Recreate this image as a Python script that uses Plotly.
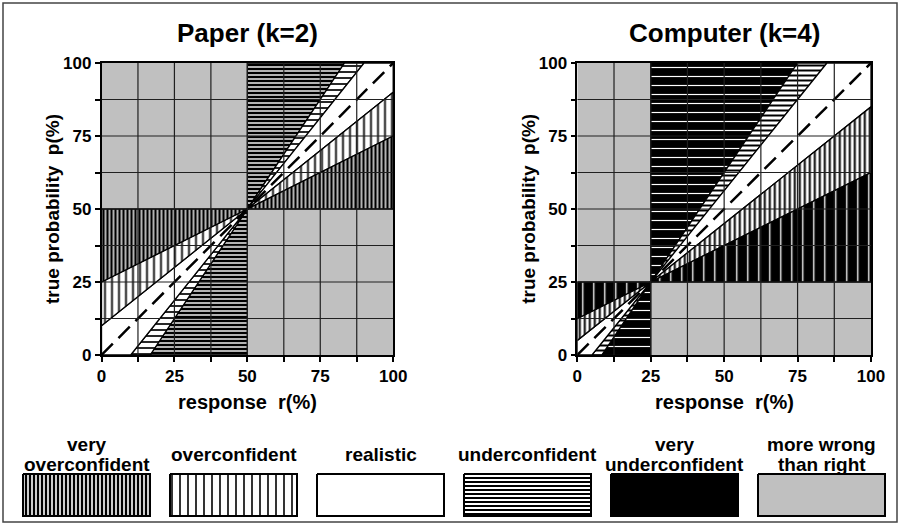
import numpy as np
import plotly.graph_objects as go

W, H = 901, 527

# ---------------- data ----------------
K_VALUES = [2, 4]
PANEL_TITLES = ["Paper (k=2)", "Computer (k=4)"]
# slopes of the band borders through the pivot (100/k, 100/k):
# very-under | under | realistic | over | very-over
BAND_SLOPES = [1.5, 1.25, 0.8, 0.5]
TICK_VALUES = [0, 25, 50, 75, 100]
GRID_STEP = 12.5
X_TITLE = "response  r(%)"
Y_TITLE = "true probability  p(%)"
LEGEND_KEYS = ["VO", "O", "R", "U", "VU", "WR"]
LEGEND_LABELS = [["very", "overconfident"], ["overconfident"], ["realistic"],
                 ["underconfident"], ["very", "underconfident"],
                 ["more wrong", "than right"]]

# ---------------- styles ----------------
GRAY = "#c0c0c0"
FONT = "Liberation Sans"
PANEL_X_PX = [(101.5, 393.2), (577.3, 871.0)]
PANEL_Y_PX = (63.0, 355.0)

PANEL_STYLES = [
    {  # Paper
        "VU": dict(shape="-", size=4, solidity=0.65, fgcolor="black", bgcolor="white"),
        "U": dict(shape="-", size=6, solidity=0.28, fgcolor="black", bgcolor="white"),
        "O": dict(shape="|", size=7, solidity=0.25, fgcolor="black", bgcolor="white"),
        "VO": dict(shape="|", size=4, solidity=0.65, fgcolor="black", bgcolor="white"),
    },
    {  # Computer
        "VU": dict(shape="-", size=9, solidity=0.13, fgcolor="white", bgcolor="black"),
        "U": dict(shape="-", size=5, solidity=0.4, fgcolor="black", bgcolor="white"),
        "O": dict(shape="|", size=5, solidity=0.4, fgcolor="black", bgcolor="white"),
        "VO": dict(shape="|", size=11, solidity=0.12, fgcolor="white", bgcolor="black"),
    },
]
LEGEND_STYLES = {
    "VO": dict(shape="|", size=4, solidity=0.6, fgcolor="black", bgcolor="white"),
    "O": dict(shape="|", size=8, solidity=0.2, fgcolor="black", bgcolor="white"),
    "R": None,
    "U": dict(shape="-", size=4, solidity=0.5, fgcolor="black", bgcolor="white"),
    "VU": "black",
    "WR": GRAY,
}

fig = go.Figure()


def polygons(c):
    s1, s2, s3, s4 = BAND_SLOPES
    xr = lambda s, p: c + (p - c) / s
    pr = lambda s, r: c + s * (r - c)
    return {
        "VU": [[(c, c), (c, 100), (xr(s1, 100), 100)],
               [(c, c), (xr(s1, 0), 0), (c, 0)]],
        "U": [[(c, c), (xr(s1, 100), 100), (xr(s2, 100), 100)],
              [(c, c), (xr(s2, 0), 0), (xr(s1, 0), 0)]],
        "O": [[(c, c), (100, pr(s3, 100)), (100, pr(s4, 100))],
              [(c, c), (0, pr(s4, 0)), (0, pr(s3, 0))]],
        "VO": [[(c, c), (100, pr(s4, 100)), (100, c)],
               [(c, c), (0, c), (0, pr(s4, 0))]],
        "R": [[(c, c), (xr(s2, 100), 100), (100, 100), (100, pr(s3, 100))],
              [(c, c), (0, pr(s3, 0)), (0, 0), (xr(s2, 0), 0)]],
    }


shapes = []
annotations = []
for i, k in enumerate(K_VALUES):
    c = 100.0 / k
    xa = "x" if i == 0 else f"x{i + 1}"
    ya = "y" if i == 0 else f"y{i + 1}"
    # more wrong than right quadrants
    for (x0, x1, y0, y1) in [(0, c, c, 100), (c, 100, 0, c)]:
        fig.add_trace(go.Scatter(x=[x0, x1, x1, x0, x0], y=[y0, y0, y1, y1, y0],
                                 mode="lines", fill="toself", fillcolor=GRAY,
                                 line=dict(width=0), xaxis=xa, yaxis=ya,
                                 showlegend=False, hoverinfo="skip"))
    polys = polygons(c)
    for key in ["VU", "U", "R", "O", "VO"]:
        for poly in polys[key]:
            xs = [p[0] for p in poly] + [poly[0][0]]
            ys = [p[1] for p in poly] + [poly[0][1]]
            st = PANEL_STYLES[i].get(key)
            kw = {}
            if st is None:
                kw["fillcolor"] = "white"
            else:
                kw["fillcolor"] = st["bgcolor"]
                kw["fillpattern"] = dict(fgopacity=1, **st)
            fig.add_trace(go.Scatter(x=xs, y=ys, mode="lines", fill="toself",
                                     line=dict(color="black", width=1.3),
                                     xaxis=xa, yaxis=ya, showlegend=False,
                                     hoverinfo="skip", **kw))
    # realistic diagonal
    fig.add_trace(go.Scatter(x=[0, 100], y=[0, 100], mode="lines",
                             line=dict(color="black", width=2.5, dash="16px,8px"),
                             xaxis=xa, yaxis=ya, showlegend=False, hoverinfo="skip"))
    # grid lines drawn above fills
    grid = np.arange(GRID_STEP, 100, GRID_STEP)
    for g in grid:
        shapes.append(dict(type="line", xref=xa, yref=ya, x0=g, x1=g, y0=0, y1=100,
                           line=dict(color="#202020", width=1.2), layer="above"))
        shapes.append(dict(type="line", xref=xa, yref=ya, x0=0, x1=100, y0=g, y1=g,
                           line=dict(color="#202020", width=1.2), layer="above"))
    # titles
    cx = (PANEL_X_PX[i][0] + PANEL_X_PX[i][1]) / 2
    annotations.append(dict(text=PANEL_TITLES[i], x=cx / W, y=1 - 33 / H,
                            xref="paper", yref="paper", showarrow=False,
                            xanchor="center", yanchor="middle",
                            font=dict(family=FONT, size=26, color="black", weight="bold")))
    annotations.append(dict(text=X_TITLE, x=cx / W, y=1 - 402 / H,
                            xref="paper", yref="paper", showarrow=False,
                            xanchor="center", yanchor="middle",
                            font=dict(family=FONT, size=20, color="black", weight="bold")))
    cy = (PANEL_Y_PX[0] + PANEL_Y_PX[1]) / 2
    annotations.append(dict(text=Y_TITLE, x=(PANEL_X_PX[i][0] - 49.5) / W, y=1 - cy / H,
                            xref="paper", yref="paper", showarrow=False, textangle=-90,
                            xanchor="center", yanchor="middle",
                            font=dict(family=FONT, size=19, color="black", weight="bold")))

# ---------------- legend ----------------
BOX_X0, BOX_STEP, BOX_W, BOX_Y0, BOX_Y1 = 23, 147, 127, 474, 516
for j, key in enumerate(LEGEND_KEYS):
    x0 = BOX_X0 + BOX_STEP * j
    x1 = x0 + BOX_W
    st = LEGEND_STYLES[key]
    kw = {}
    if st is None:
        kw["fillcolor"] = "white"
    elif isinstance(st, str):
        kw["fillcolor"] = st
    else:
        kw["fillcolor"] = st["bgcolor"]
        kw["fillpattern"] = dict(fgopacity=1, **st)
    fig.add_trace(go.Scatter(x=[x0, x1, x1, x0, x0], y=[BOX_Y0, BOX_Y0, BOX_Y1, BOX_Y1, BOX_Y0],
                             mode="lines", fill="toself", line=dict(color="black", width=2),
                             xaxis="x3", yaxis="y3", showlegend=False, hoverinfo="skip", **kw))
    lines = LEGEND_LABELS[j]
    ys = [454] if len(lines) == 1 else [444, 464]
    for t, yy in zip(lines, ys):
        annotations.append(dict(text=t, x=(x0 + BOX_W / 2) / W, y=1 - yy / H,
                                xref="paper", yref="paper", showarrow=False,
                                xanchor="center", yanchor="middle",
                                font=dict(family=FONT, size=19, color="black", weight="bold")))

# outer frame
shapes.append(dict(type="rect", xref="paper", yref="paper", x0=3 / W, x1=897 / W,
                   y0=1 - 522 / H, y1=1 - 3 / H, line=dict(color="#444", width=1.5),
                   fillcolor="rgba(0,0,0,0)", layer="above"))

tickvals = list(np.arange(0, 100.01, GRID_STEP))
ticktext = [str(int(v)) if v in TICK_VALUES else "" for v in tickvals]
axis_common = dict(range=[0, 100], showgrid=False, zeroline=False, showline=True,
                   linecolor="black", linewidth=1.5, mirror=True, ticks="outside",
                   ticklen=5, tickwidth=1.5, tickcolor="black", tickvals=tickvals,
                   ticktext=ticktext, fixedrange=True, automargin=False,
                   tickfont=dict(family=FONT, size=17, color="black", weight="bold"))

ydom = [1 - PANEL_Y_PX[1] / H, 1 - PANEL_Y_PX[0] / H]
fig.update_layout(
    width=W, height=H, margin=dict(l=0, r=0, t=0, b=0, pad=0, autoexpand=False),
    paper_bgcolor="white", plot_bgcolor="rgba(0,0,0,0)",
    xaxis=dict(domain=[PANEL_X_PX[0][0] / W, PANEL_X_PX[0][1] / W], anchor="y", **axis_common),
    yaxis=dict(domain=ydom, anchor="x", **axis_common),
    xaxis2=dict(domain=[PANEL_X_PX[1][0] / W, PANEL_X_PX[1][1] / W], anchor="y2", **axis_common),
    yaxis2=dict(domain=ydom, anchor="x2", **axis_common),
    xaxis3=dict(domain=[0, 1], range=[0, W], visible=False, anchor="y3", fixedrange=True,
                automargin=False),
    yaxis3=dict(domain=[0, 1], range=[H, 0], visible=False, anchor="x3", fixedrange=True,
                automargin=False),
    shapes=shapes, annotations=annotations, showlegend=False,
)

fig.write_html("out.html", config={"displayModeBar": False})
